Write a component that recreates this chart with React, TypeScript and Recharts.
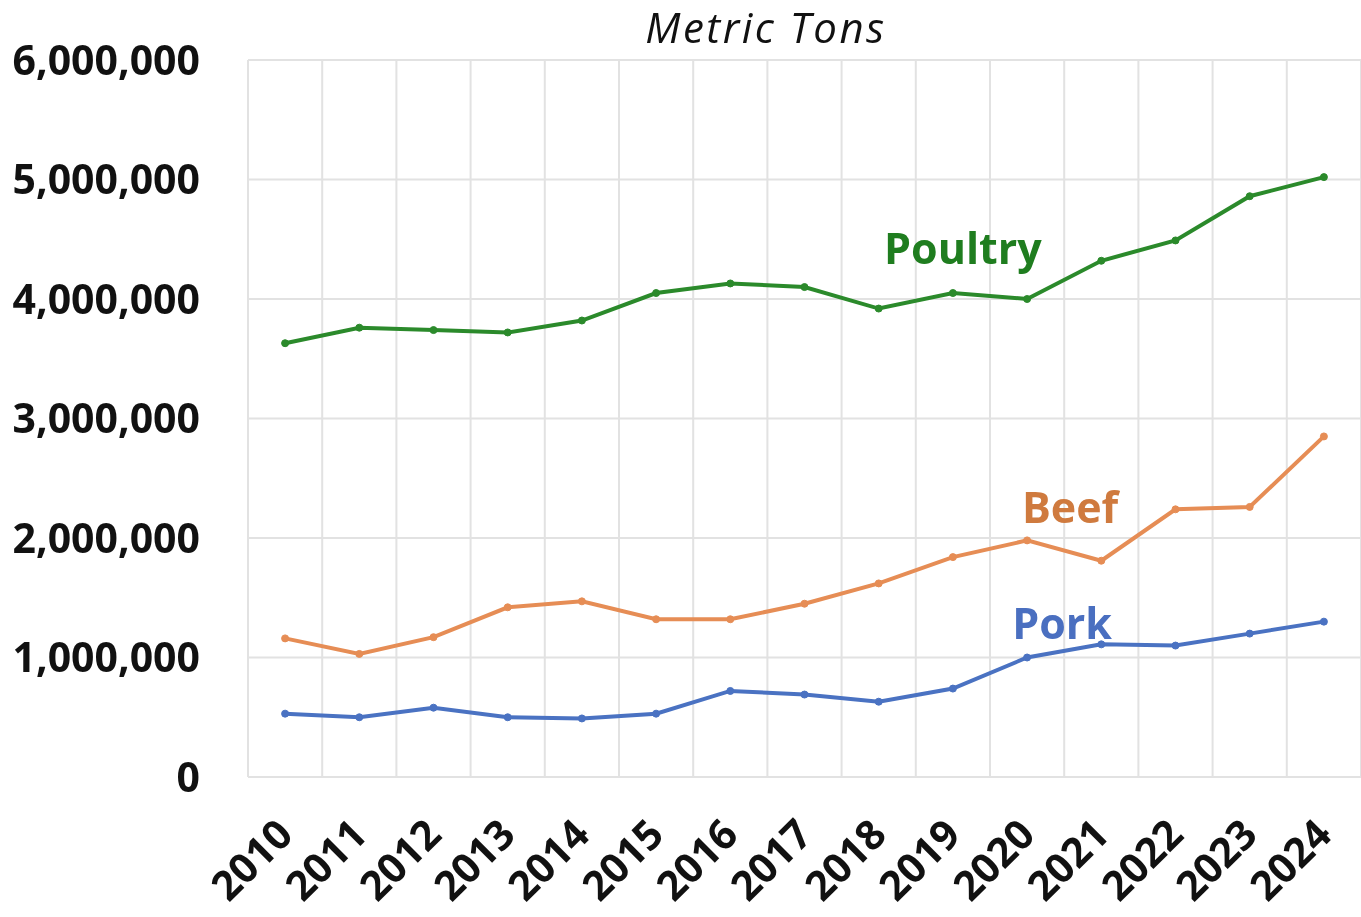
import React from 'react'
import {
  ComposedChart, Line, XAxis, YAxis, CartesianGrid, ReferenceDot,
} from 'recharts'

const years = ['2010', '2011', '2012', '2013', '2014', '2015', '2016', '2017', '2018', '2019', '2020', '2021', '2022', '2023', '2024']
const poultry = [3630000, 3760000, 3740000, 3720000, 3820000, 4050000, 4130000, 4100000, 3920000, 4050000, 4000000, 4320000, 4490000, 4860000, 5020000]
const beef = [1160000, 1030000, 1170000, 1420000, 1470000, 1320000, 1320000, 1450000, 1620000, 1840000, 1980000, 1810000, 2240000, 2260000, 2850000]
const pork = [530000, 500000, 580000, 500000, 490000, 530000, 720000, 690000, 630000, 740000, 1000000, 1110000, 1100000, 1200000, 1300000]
const yTicks = [0, 1000000, 2000000, 3000000, 4000000, 5000000, 6000000]

const data = years.map((year, i) => ({
  year,
  poultry: poultry[i],
  beef: beef[i],
  pork: pork[i],
}))

const FONT = '"Open Sans", sans-serif'
const GREEN = '#2b8a2b'
const ORANGE = '#e68d55'
const BLUE = '#4a72c2'

const YearTick = (props: any) => {
  const { x, y, payload } = props
  const px = x + 10
  const py = y + 60
  return (
    <text x={px} y={py} transform={`rotate(-45 ${px} ${py})`} textAnchor="end"
      fontFamily={FONT} fontSize={41} fontWeight={700} fill="#111">
      {payload.value}
    </text>
  )
}

const seriesLabel = (text: string, color: string, dx: number) => (p: any) => (
  <text x={p.cx + dx} y={p.cy} textAnchor="middle" dominantBaseline="central"
    fontFamily={FONT} fontSize={43} fontWeight={700} fill={color}>
    {text}
  </text>
)

// vertical grid lines sit on the band edges, not on the band centres
const bandEdges = ({ offset }: any) =>
  [...years.map((_, i) => i), years.length].map((i) => offset.left + (i * offset.width) / years.length)

export default function App() {
  return (
    <div style={{ position: 'fixed', top: 0, left: 0, width: 1361, height: 917, background: '#fff' }}>
      <div style={{
        position: 'absolute', top: 5, left: 516, width: 500, textAlign: 'center',
        fontFamily: FONT, fontStyle: 'italic', fontSize: 42, lineHeight: '44px', color: '#111',
        letterSpacing: 2.5,
      }}>
        Metric Tons
      </div>
      <ComposedChart width={1361} height={917} data={data}
        margin={{ top: 60, right: 0, left: 0, bottom: 0 }}>
        <CartesianGrid stroke="#e2e2e2" strokeWidth={2} verticalCoordinatesGenerator={bandEdges} />
        <XAxis dataKey="year" scale="band" height={140} tickLine={false} axisLine={false}
          tickSize={0} tickMargin={0} interval={0} tick={<YearTick />} />
        <YAxis domain={[0, 6000000]} ticks={yTicks} width={248} tickLine={false} axisLine={false}
          tickSize={0} tickMargin={48}
          tickFormatter={(v) => Number(v).toLocaleString('en-US')}
          tick={{ fontFamily: FONT, fontSize: 41, fontWeight: 700, fill: '#111' }} />
        <Line dataKey="poultry" stroke={GREEN} strokeWidth={4} isAnimationActive={false}
          dot={{ r: 3.5, fill: GREEN, stroke: GREEN, strokeWidth: 1 }} />
        <Line dataKey="beef" stroke={ORANGE} strokeWidth={4} isAnimationActive={false}
          dot={{ r: 3.5, fill: ORANGE, stroke: ORANGE, strokeWidth: 1 }} />
        <Line dataKey="pork" stroke={BLUE} strokeWidth={4} isAnimationActive={false}
          dot={{ r: 3.5, fill: BLUE, stroke: BLUE, strokeWidth: 1 }} />
        <ReferenceDot x="2019" y={4430000} r={0} shape={seriesLabel('Poultry', '#1f7d1f', 10)} />
        <ReferenceDot x="2020" y={2260000} r={0} shape={seriesLabel('Beef', '#cf7a3e', 43)} />
        <ReferenceDot x="2020" y={1290000} r={0} shape={seriesLabel('Pork', '#4a6fc0', 35)} />
      </ComposedChart>
    </div>
  )
}
